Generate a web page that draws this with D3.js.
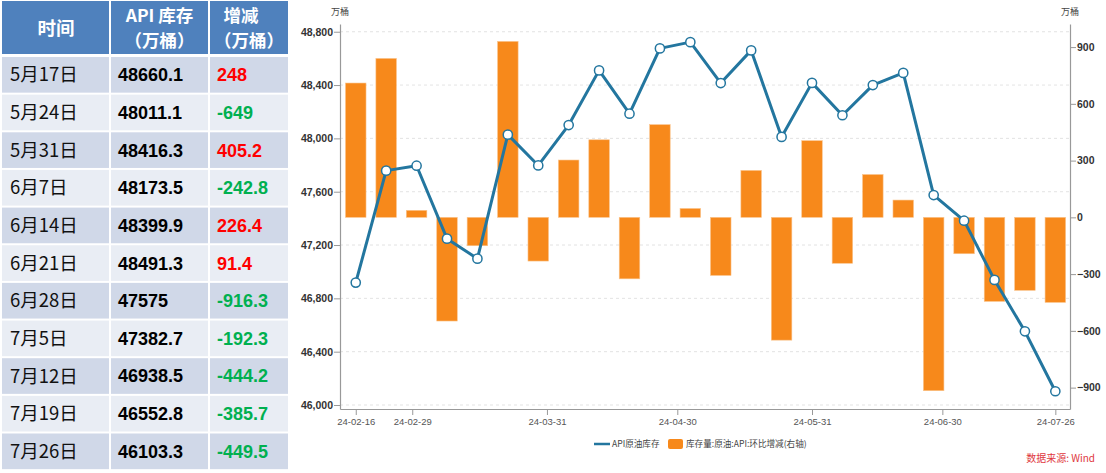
<!DOCTYPE html>
<html><head><meta charset="utf-8">
<script src="https://cdn.jsdelivr.net/npm/d3@7"></script>
<style>html,body{margin:0;padding:0;background:#fff;}svg{display:block;}</style>
</head><body>
<svg id="c" width="1106" height="473"></svg>
<script>
// ---------- table data ----------
const tableHeaders = [["时间"], ["API 库存", "（万桶）"], ["增减", "（万桶）"]];
const tableDates = ["5月17日","5月24日","5月31日","6月7日","6月14日","6月21日","6月28日","7月5日","7月12日","7月19日","7月26日"];
const tableStock = ["48660.1","48011.1","48416.3","48173.5","48399.9","48491.3","47575","47382.7","46938.5","46552.8","46103.3"];
const tableChange = ["248","-649","405.2","-242.8","226.4","91.4","-916.3","-192.3","-444.2","-385.7","-449.5"];

// ---------- chart data ----------
const weekDates = ["2024-02-16","2024-02-23","2024-03-01","2024-03-08","2024-03-15","2024-03-22","2024-03-29",
  "2024-04-05","2024-04-12","2024-04-19","2024-04-26","2024-05-03","2024-05-10","2024-05-17","2024-05-24",
  "2024-05-31","2024-06-07","2024-06-14","2024-06-21","2024-06-28","2024-07-05","2024-07-12","2024-07-19","2024-07-26"];
const stockValues = [46918,47758,47795,47248,47098,48028,47797,48100,48510,48185,48675,48722,48415,48660.1,
  48011.1,48416.3,48173.5,48399.9,48491.3,47575,47382.7,46938.5,46552.8,46103.3];
const changeValues = [710,840,37,-548,-150,930,-231,303,410,-325,490,47,-307,248,-649,405.2,-242.8,226.4,91.4,
  -916.3,-192.3,-444.2,-385.7,-449.5];
const leftTicks = [46000,46400,46800,47200,47600,48000,48400,48800];
const rightTicks = [-900,-600,-300,0,300,600,900];
const xTickLabels = ["2024-02-16","2024-02-29","2024-03-31","2024-04-30","2024-05-31","2024-06-30","2024-07-26"];
const legendLabels = ["API原油库存","库存量:原油:API:环比增减(右轴)"];
const unitLabel = "万桶";
const sourceLabel = "数据来源: Wind";

const svg = d3.select("#c");
const cjk = "'Noto Sans CJK SC','Noto Sans',sans-serif";
const arial = "'Liberation Sans',Arial,sans-serif";

// ---------- table ----------
const colX = [2, 110, 209, 289];
const headTop = 1, headBot = 54, bodyTop = 57, rowH = 37.65;
const tg = svg.append("g");
const cols = d3.range(3);
tg.selectAll("rect.h").data(cols).join("rect")
  .attr("x", i => colX[i] + (i ? 1 : 0)).attr("y", headTop)
  .attr("width", i => colX[i+1] - colX[i] - (i ? 2 : 1)).attr("height", headBot - headTop)
  .attr("fill", "#4F81BD");
const headerLines = tableHeaders.flatMap((lines, i) => lines.map((t, j) => ({t, i, j, n: lines.length})));
tg.selectAll("text.h").data(headerLines).join("text")
  .attr("x", d => (colX[d.i] + colX[d.i+1]) / 2 + (d.i === 2 && d.j === 0 ? -8 : 0))
  .attr("y", d => d.n === 1 ? 28 : (d.j === 0 ? 15.5 : 41))
  .attr("dy", "0.36em").attr("text-anchor", "middle")
  .attr("fill", "#fff").attr("font-family", cjk).attr("font-weight", "bold")
  .attr("font-size", d => d.n === 1 ? 18.5 : 17.5)
  .text(d => d.t);

const rows = tableDates.map((d, r) => ({r, date: d, stock: tableStock[r], chg: tableChange[r]}));
const rowG = tg.selectAll("g.row").data(rows).join("g")
  .attr("transform", d => `translate(0,${bodyTop + d.r * rowH})`);
cols.forEach(i => {
  rowG.append("rect").attr("x", colX[i] + (i ? 1 : 0)).attr("y", 0)
    .attr("width", colX[i+1] - colX[i] - (i ? 2 : 1)).attr("height", rowH - 2)
    .attr("fill", d => d.r % 2 === 0 ? "#D0D8E8" : "#E9EDF4");
});
rowG.append("text").attr("x", 10).attr("y", (rowH - 2) / 2).attr("dy", "0.36em")
  .attr("font-family", cjk).attr("font-size", 18.5).attr("fill", "#111").text(d => d.date);
rowG.append("text").attr("x", 118).attr("y", (rowH - 2) / 2).attr("dy", "0.36em")
  .attr("font-family", arial).attr("font-weight", "bold").attr("font-size", 18).attr("fill", "#000").text(d => d.stock);
rowG.append("text").attr("x", 217).attr("y", (rowH - 2) / 2).attr("dy", "0.36em")
  .attr("font-family", arial).attr("font-weight", "bold").attr("font-size", 18)
  .attr("fill", d => +d.chg >= 0 ? "#FF0000" : "#00B050").text(d => d.chg);

// ---------- chart ----------
const P = {l: 340, r: 1070, t: 24, b: 409};
const parse = d3.timeParse("%Y-%m-%d");
const dates = weekDates.map(parse);
const x = d3.scaleTime()
  .domain([d3.timeHour.offset(dates[0], -87), d3.timeHour.offset(dates[dates.length-1], 81)])
  .range([P.l, P.r]);
const yL = d3.scaleLinear().domain([45970, 48858]).range([P.b, P.t]);
const yR = d3.scaleLinear().domain([-1013, 1022]).range([P.b, P.t]);
const barW = (x(dates[1]) - x(dates[0])) * 0.675;

const cg = svg.append("g");
// grid
cg.selectAll("line.grid").data(leftTicks).join("line")
  .attr("x1", P.l).attr("x2", P.r).attr("y1", d => yL(d)).attr("y2", d => yL(d))
  .attr("stroke", "#dcdcdc").attr("stroke-width", 0.8).attr("stroke-dasharray", "3,3");

// bars
cg.selectAll("rect.bar").data(changeValues).join("rect")
  .attr("x", (d, i) => x(dates[i]) - barW / 2)
  .attr("y", d => yR(Math.max(0, d)))
  .attr("width", barW)
  .attr("height", d => Math.abs(yR(d) - yR(0)))
  .attr("fill", "#F7891B").attr("stroke", "#FAC48C").attr("stroke-width", 0.6);

// axes
const fmt = d3.format(",");
const axL = cg.append("g").attr("transform", `translate(${P.l},0)`)
  .call(d3.axisLeft(yL).tickValues(leftTicks).tickFormat(fmt).tickSize(6).tickSizeOuter(0));
const axR = cg.append("g").attr("transform", `translate(${P.r},0)`)
  .call(d3.axisRight(yR).tickValues(rightTicks).tickSize(6).tickSizeOuter(0));
const axX = cg.append("g").attr("transform", `translate(0,${P.b})`)
  .call(d3.axisBottom(x).tickValues(xTickLabels.map(parse)).tickFormat(d3.timeFormat("%y-%m-%d")).tickSize(6).tickSizeOuter(0));
[axL, axR, axX].forEach(a => {
  a.select(".domain").attr("stroke", "#999").attr("stroke-width", 1.2);
  a.selectAll(".tick line").attr("stroke", "#999");
});
[axL, axR].forEach(a => a.selectAll(".tick text")
  .attr("font-family", arial).attr("font-weight", "bold").attr("font-size", 10.5).attr("fill", "#333"));
axL.selectAll(".tick text").attr("x", -7);
axR.selectAll(".tick text").attr("x", 7);
axX.selectAll(".tick text").attr("font-family", arial).attr("font-size", 9.5).attr("fill", "#555").attr("y", 9);

// line
const line = d3.line().x((d, i) => x(dates[i])).y(d => yL(d));
cg.append("path").datum(stockValues).attr("d", line)
  .attr("fill", "none").attr("stroke", "#23769F").attr("stroke-width", 3).attr("stroke-linejoin", "round");
cg.selectAll("circle.pt").data(stockValues).join("circle")
  .attr("cx", (d, i) => x(dates[i])).attr("cy", d => yL(d)).attr("r", 4.6)
  .attr("fill", "#fff").attr("stroke", "#23769F").attr("stroke-width", 1.5);

// unit labels
cg.append("text").attr("x", 340).attr("y", 12).attr("dy", "0.36em").attr("text-anchor", "middle")
  .attr("font-family", cjk).attr("font-size", 9).attr("fill", "#444").text(unitLabel);
cg.append("text").attr("x", 1070).attr("y", 12).attr("dy", "0.36em").attr("text-anchor", "middle")
  .attr("font-family", cjk).attr("font-size", 9).attr("fill", "#444").text(unitLabel);

// legend
const lg = cg.append("g").attr("transform", "translate(0,444)");
lg.append("line").attr("x1", 594).attr("x2", 610).attr("y1", 0).attr("y2", 0)
  .attr("stroke", "#23769F").attr("stroke-width", 2.5);
lg.append("text").attr("x", 612).attr("y", 0).attr("dy", "0.36em")
  .attr("font-family", cjk).attr("font-size", 8.6).attr("fill", "#444").text(legendLabels[0]);
lg.append("rect").attr("x", 668).attr("y", -5).attr("width", 15).attr("height", 10).attr("rx", 2)
  .attr("fill", "#F7891B");
lg.append("text").attr("x", 686).attr("y", 0).attr("dy", "0.36em")
  .attr("font-family", cjk).attr("font-size", 8.6).attr("fill", "#444").text(legendLabels[1]);

cg.append("text").attr("x", 1095).attr("y", 458).attr("dy", "0.36em").attr("text-anchor", "end")
  .attr("font-family", cjk).attr("font-size", 10).attr("fill", "#E0383E").text(sourceLabel);
</script>
</body></html>
